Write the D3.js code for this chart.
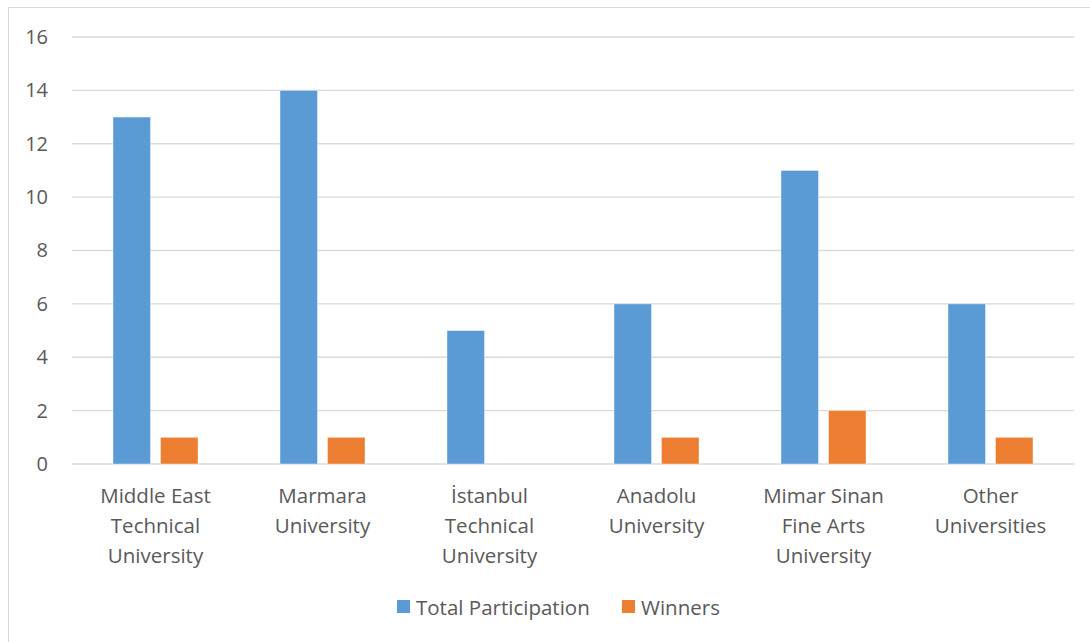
<html>
<head>
<meta charset="utf-8">
<script src="https://d3js.org/d3.v7.min.js"></script>
<style>
  body { margin: 0; background: #fff; }
  text { font-family: "Open Sans", "Noto Sans", sans-serif; fill: #595959; }
</style>
</head>
<body>
<script>
var categories = [
  ["Middle East", "Technical", "University"],
  ["Marmara", "University"],
  ["İstanbul", "Technical", "University"],
  ["Anadolu", "University"],
  ["Mimar Sinan", "Fine Arts", "University"],
  ["Other", "Universities"]
];
var seriesNames = ["Total Participation", "Winners"];
var totalParticipation = [13, 14, 5, 6, 11, 6];
var winners = [1, 1, 0, 1, 2, 1];
var yTicks = [0, 2, 4, 6, 8, 10, 12, 14, 16];
var colors = ["#5b9bd5", "#ed7d31"];

var w = 1090, h = 642;
var pLeft = 72, pRight = 1074, pTop = 37, pBottom = 464;

var svg = d3.select("body").append("svg").attr("width", w).attr("height", h);

// chart border
svg.append("rect").attr("x", 8.5).attr("y", 7.5).attr("width", 1090).attr("height", 640)
  .attr("fill", "none").attr("stroke", "#d9d9d9");

var idx = d3.range(categories.length);
var x = d3.scaleBand().domain(idx).range([pLeft, pRight]);
var y = d3.scaleLinear().domain([0, 16]).range([pBottom, pTop]);

// gridlines
svg.append("g").selectAll("line").data(yTicks).enter().append("line")
  .attr("x1", pLeft).attr("x2", pRight)
  .attr("y1", function(d){ return y(d); }).attr("y2", function(d){ return y(d); })
  .attr("stroke", "#d9d9d9").attr("stroke-width", 1.3);

// y axis labels
var yAxis = d3.axisLeft(y).tickValues(yTicks).tickSize(0).tickPadding(0);
var yg = svg.append("g").attr("transform", "translate(48,0)").call(yAxis);
yg.select(".domain").remove();
yg.selectAll("text").attr("font-size", 20).style("fill", "#595959")
  .attr("font-family", "Open Sans, Noto Sans, sans-serif");

// bars
var barW = 37.5, gap = 10;
var series = [totalParticipation, winners];
series.forEach(function(vals, s){
  svg.append("g").selectAll("rect").data(idx).enter().append("rect")
    .attr("x", function(i){ return x(i) + x.bandwidth()/2 + (s === 0 ? -gap/2 - barW : gap/2); })
    .attr("width", barW)
    .attr("y", function(i){ return y(vals[i]); })
    .attr("height", function(i){ return y(0) - y(vals[i]); })
    .attr("fill", colors[s])
    .attr("stroke", "#fff").attr("stroke-opacity", 0.5).attr("stroke-width", 0.8);
});

// category labels
var cl = svg.append("g");
idx.forEach(function(i){
  var t = cl.append("text").attr("text-anchor", "middle").attr("font-size", 20.5)
    .attr("x", x(i) + x.bandwidth()/2);
  categories[i].forEach(function(line, k){
    t.append("tspan").attr("x", x(i) + x.bandwidth()/2).attr("y", 503 + k*30).text(line);
  });
});

// legend
var legX = [397, 622];
seriesNames.forEach(function(name, s){
  svg.append("rect").attr("x", legX[s]).attr("y", 600).attr("width", 13).attr("height", 13).attr("fill", colors[s]);
  svg.append("text").attr("x", legX[s] + 19).attr("y", 614.5).attr("font-size", 20.5).text(name);
});
</script>
</body>
</html>
